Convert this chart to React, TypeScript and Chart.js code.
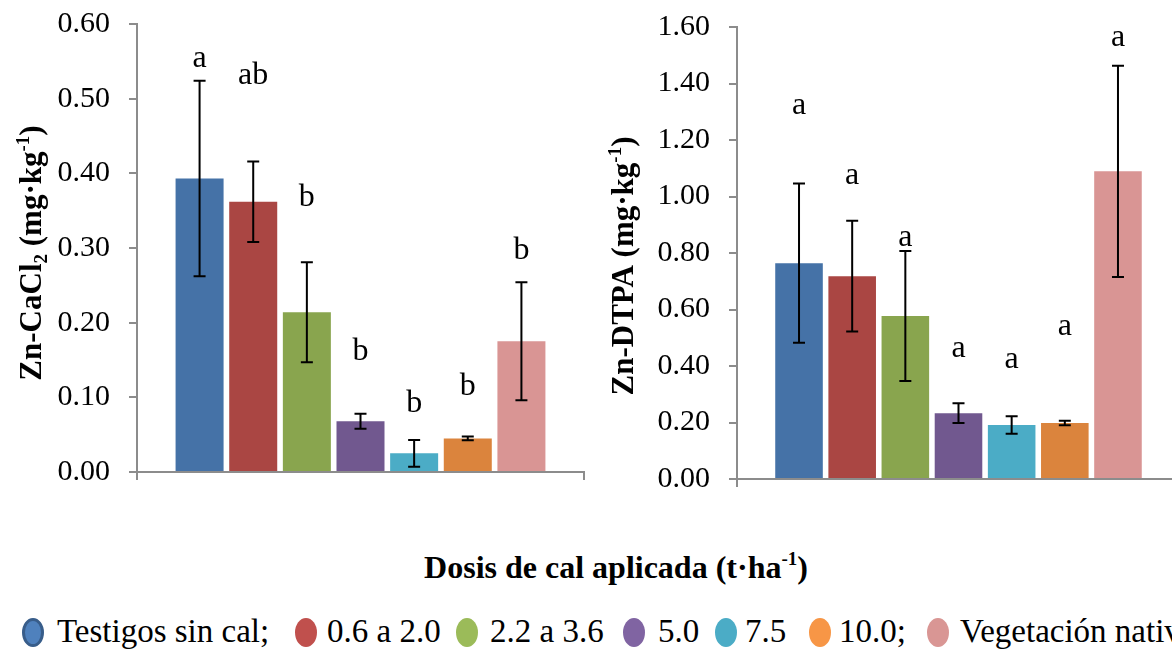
import React, { useEffect, useRef } from "react";
import { Chart, registerables } from "chart.js";
Chart.register(...registerables);

// ---------- data ----------
const treatments = ["Testigos sin cal;", "0.6 a 2.0", "2.2 a 3.6", "5.0", "7.5", "10.0;", "Vegetación nativa"];
const barColors = ["#4572A7", "#AA4643", "#89A54E", "#71588F", "#4BACC6", "#DB843D", "#D99594"];
const legendColors = ["#4F81BD", "#C0504D", "#9BBB59", "#8064A2", "#4BACC6", "#F79646", "#D99694"];

const znCaCl2Mean = [0.393, 0.362, 0.214, 0.068, 0.025, 0.045, 0.175];
const znCaCl2Err = [0.131, 0.054, 0.067, 0.010, 0.018, 0.0025, 0.079];
const znCaCl2Letters = ["a", "ab", "b", "b", "b", "b", "b"];
const znCaCl2LetterAt = [0.554, 0.531, 0.367, 0.161, 0.092, 0.114, 0.297];
const znCaCl2Axis = { min: 0, max: 0.6, step: 0.1 };

const znDtpaMean = [0.764, 0.718, 0.577, 0.233, 0.191, 0.198, 1.089];
const znDtpaErr = [0.282, 0.196, 0.23, 0.035, 0.031, 0.008, 0.374];
const znDtpaLetters = ["a", "a", "a", "a", "a", "a", "a"];
const znDtpaLetterAt = [1.323, 1.073, 0.853, 0.46, 0.421, 0.541, 1.561];
const znDtpaAxis = { min: 0, max: 1.6, step: 0.2 };

// ---------- styles ----------
const SERIF = '"Liberation Serif", "Times New Roman", serif';
const AXIS_GRAY = "#8c8c8c";

type Seg = [string, "n" | "sub" | "sup"];

function drawRotatedTitle(ctx: CanvasRenderingContext2D, segs: Seg[], cx: number, cy: number) {
  const big = `bold 31px ${SERIF}`;
  const small = `bold 19px ${SERIF}`;
  ctx.save();
  ctx.translate(cx, cy);
  ctx.rotate(-Math.PI / 2);
  let total = 0;
  for (const [t, k] of segs) {
    ctx.font = k === "n" ? big : small;
    total += ctx.measureText(t).width;
  }
  let x = -total / 2;
  ctx.fillStyle = "#000";
  ctx.textBaseline = "alphabetic";
  ctx.textAlign = "left";
  for (const [t, k] of segs) {
    ctx.font = k === "n" ? big : small;
    const dy = k === "sub" ? 6 : k === "sup" ? -12 : 0;
    ctx.fillText(t, x, 10 + dy);
    x += ctx.measureText(t).width;
  }
  ctx.restore();
}

function makeChart(
  canvas: HTMLCanvasElement,
  means: number[],
  errs: number[],
  letters: string[],
  letterAt: number[],
  axis: { min: number; max: number; step: number },
  title: Seg[],
  titlePos: [number, number],
  padding: { top: number; right: number; bottom: number; left: number }
) {
  const plugin = {
    id: "annot",
    afterDatasetsDraw(chart: any) {
      const ctx = chart.ctx as CanvasRenderingContext2D;
      const y = chart.scales.y;
      ctx.save();
      chart.data.datasets.forEach((_: any, i: number) => {
        const el = chart.getDatasetMeta(i).data[0];
        const x = el.x;
        const hi = y.getPixelForValue(means[i] + errs[i]);
        const lo = y.getPixelForValue(means[i] - errs[i]);
        ctx.strokeStyle = "#000";
        ctx.lineWidth = 2;
        ctx.beginPath();
        ctx.moveTo(x, hi);
        ctx.lineTo(x, lo);
        ctx.moveTo(x - 6, hi);
        ctx.lineTo(x + 6, hi);
        ctx.moveTo(x - 6, lo);
        ctx.lineTo(x + 6, lo);
        ctx.stroke();
        ctx.font = `32px ${SERIF}`;
        ctx.fillStyle = "#000";
        ctx.textAlign = "center";
        ctx.textBaseline = "middle";
        ctx.fillText(letters[i], x, y.getPixelForValue(letterAt[i]));
      });
      ctx.restore();
      drawRotatedTitle(ctx, title, titlePos[0], titlePos[1]);
    },
  };

  return new Chart(canvas, {
    type: "bar",
    data: {
      labels: [""],
      datasets: treatments.map((t, i) => ({
        label: t,
        data: [means[i]],
        backgroundColor: barColors[i],
        borderWidth: 0,
        categoryPercentage: 0.84,
        barPercentage: 0.895,
      })),
    },
    options: {
      responsive: false,
      animation: false,
      layout: { padding },
      plugins: { legend: { display: false }, tooltip: { enabled: false } },
      scales: {
        x: {
          type: "category",
          ticks: { display: false },
          grid: {
            display: true,
            drawOnChartArea: false,
            drawTicks: true,
            tickLength: 8,
            offset: true,
            color: AXIS_GRAY,
            lineWidth: 2,
          },
          border: { display: true, color: AXIS_GRAY, width: 2 },
          afterFit: (s: any) => {
            s.height = 8;
            s.paddingLeft = 0;
            s.paddingRight = 0;
          },
        },
        y: {
          min: axis.min,
          max: axis.max,
          ticks: {
            stepSize: axis.step,
            callback: (v: any) => Number(v).toFixed(2),
            font: { family: SERIF, size: 30 },
            color: "#000",
            padding: 19,
          },
          grid: { drawOnChartArea: false, drawTicks: true, tickLength: 8, color: AXIS_GRAY, lineWidth: 2 },
          border: { display: true, color: AXIS_GRAY, width: 2 },
          afterFit: (s: any) => {
            s.width = 137;
            s.paddingTop = 0;
            s.paddingBottom = 0;
          },
        },
      },
    } as any,
    plugins: [plugin as any],
  });
}

const legendLayout = [
  { circle: 22, text: 57 },
  { circle: 295, text: 327 },
  { circle: 456, text: 490 },
  { circle: 623, text: 658 },
  { circle: 715, text: 745 },
  { circle: 809, text: 839 },
  { circle: 927, text: 960 },
];

export default function App() {
  const leftRef = useRef<HTMLCanvasElement>(null);
  const rightRef = useRef<HTMLCanvasElement>(null);

  useEffect(() => {
    const a = makeChart(
      leftRef.current!,
      znCaCl2Mean,
      znCaCl2Err,
      znCaCl2Letters,
      znCaCl2LetterAt,
      znCaCl2Axis,
      [["Zn-CaCl", "n"], ["2", "sub"], [" (mg·kg", "n"], ["-1", "sup"], [")", "n"]],
      [31, 253],
      { top: 24, right: 16, bottom: 20, left: 0 }
    );
    const b = makeChart(
      rightRef.current!,
      znDtpaMean,
      znDtpaErr,
      znDtpaLetters,
      znDtpaLetterAt,
      znDtpaAxis,
      [["Zn-DTPA (mg·kg", "n"], ["-1", "sup"], [")", "n"]],
      [23, 266],
      { top: 27, right: 20, bottom: 13, left: 0 }
    );
    return () => {
      a.destroy();
      b.destroy();
    };
  }, []);

  return (
    <div
      style={{
        position: "absolute",
        left: 0,
        top: 0,
        width: 1172,
        height: 652,
        overflow: "hidden",
        background: "#fff",
        fontFamily: SERIF,
        color: "#000",
      }}
    >
      <canvas ref={leftRef} width={600} height={500} style={{ position: "absolute", left: 0, top: 0 }} />
      <canvas ref={rightRef} width={600} height={500} style={{ position: "absolute", left: 600, top: 0 }} />
      <div
        style={{
          position: "absolute",
          left: 616,
          top: 547,
          transform: "translateX(-50%)",
          whiteSpace: "nowrap",
          fontWeight: "bold",
          fontSize: 32,
          lineHeight: "40px",
        }}
      >
        Dosis de cal aplicada (t·ha
        <span style={{ fontSize: 19, position: "relative", top: -13 }}>-1</span>)
      </div>
      {treatments.map((t, i) => (
        <React.Fragment key={t}>
          <div
            style={{
              position: "absolute",
              left: legendLayout[i].circle,
              top: 618,
              width: 22,
              height: 29,
              boxSizing: "border-box",
              borderRadius: "50%",
              background: legendColors[i],
              border: i === 0 ? "3px solid #385D8A" : "none",
            }}
          />
          <div
            style={{
              position: "absolute",
              left: legendLayout[i].text,
              top: 612,
              fontSize: 33,
              lineHeight: "38px",
              whiteSpace: "nowrap",
            }}
          >
            {t}
          </div>
        </React.Fragment>
      ))}
    </div>
  );
}
